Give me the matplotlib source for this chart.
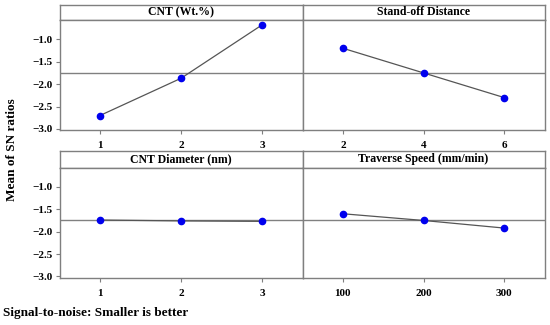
import matplotlib
matplotlib.use("Agg")
import matplotlib.pyplot as plt
import numpy as np

plt.rcParams['font.family'] = ['Liberation Serif', 'DejaVu Serif']
plt.rcParams['font.weight'] = 'bold'

# Data
titles = ["CNT (Wt.%)", "Stand-off Distance", "CNT Diameter (nm)", "Traverse Speed (mm/min)"]
cnt_levels = ["1", "2", "3"]
cnt_sn = [-2.70, -1.87, -0.68]
sod_levels = ["2", "4", "6"]
sod_sn = [-1.20, -1.75, -2.30]
dia_levels = ["1", "2", "3"]
dia_sn = [-1.74, -1.76, -1.77]
ts_levels = ["100", "200", "300"]
ts_sn = [-1.60, -1.75, -1.92]
grand_mean = -1.75
yticks = [-1.0, -1.5, -2.0, -2.5, -3.0]

W, H = 550, 325
fig = plt.figure(figsize=(5.5, 3.25), dpi=100)

def px(x0, y0, x1, y1):
    return [x0 / W, 1 - y1 / H, (x1 - x0) / W, (y1 - y0) / H]

cols = [(59.5, 302.5), (302.5, 544.5)]
rows = [(4.5, 20, 130.3), (151, 167.7, 277.7)]
data = [(cnt_levels, cnt_sn), (sod_levels, sod_sn), (dia_levels, dia_sn), (ts_levels, ts_sn)]
spine_c = "#7f7f7f"

for i in range(4):
    r, c = divmod(i, 2)
    x0, x1 = cols[c]
    st, pt, pb = rows[r]
    labels, vals = data[i]
    # strip
    sax = fig.add_axes(px(x0, st, x1, pt))
    sax.set_xticks([]); sax.set_yticks([])
    for s in sax.spines.values():
        s.set_color(spine_c); s.set_linewidth(1.0)
    sax.text(0.5, 0.5, titles[i], ha='center', va='center', fontsize=8.5,
             fontweight='bold', transform=sax.transAxes)
    # panel
    ax = fig.add_axes(px(x0, pt, x1, pb))
    pos = np.arange(1, len(labels) + 1)
    ax.axhline(grand_mean, color="#808080", lw=1.0, zorder=1)
    ax.plot(pos, vals, color="#555555", lw=0.9, zorder=2)
    ax.plot(pos, vals, 'o', color="#0000ee", ms=4.5, zorder=3)
    ax.set_xlim(0.5, 3.5)
    ax.set_ylim(-3.03, -0.57)
    ax.set_xticks(pos)
    ax.set_xticklabels(labels, fontsize=8, fontweight='bold')
    for s in ax.spines.values():
        s.set_color(spine_c); s.set_linewidth(1.0)
    ax.tick_params(axis='both', length=3, width=0.8, color=spine_c, pad=5)
    if c == 0:
        ax.set_yticks(yticks)
        ax.set_yticklabels([f"{v:.1f}".replace('-', '\u2212') for v in yticks],
                           fontsize=8, fontweight='bold')
        ax.tick_params(axis='y', pad=2)
    else:
        ax.set_yticks([])

fig.text(12 / W, 1 - 150 / H, "Mean of SN ratios", rotation=90, ha='center',
         va='center', fontsize=9.5, fontweight='bold')
fig.text(3 / W, 1 - 313 / H, "Signal-to-noise: Smaller is better", ha='left',
         va='center', fontsize=9.5, fontweight='bold')

fig.savefig("out.png", dpi=100)
